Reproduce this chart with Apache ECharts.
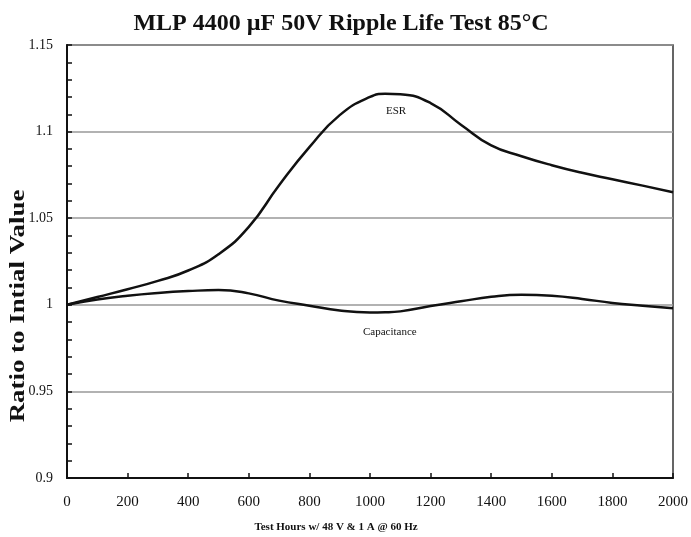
<!DOCTYPE html>
<html>
<head>
<meta charset="utf-8">
<script src="https://cdn.jsdelivr.net/npm/echarts@6/dist/echarts.min.js"></script>
<style>html,body{margin:0;padding:0;background:#fff;}#c{width:691px;height:537px;}</style>
</head>
<body>
<div id="c"></div>
<script>
const hours = [0,100,200,300,400,500,600,700,800,900,1000,1050,1100,1200,1300,1400,1500,1600,1700,1800,1900,2000];
const esr = [1.000,1.0045,1.0090,1.0138,1.0198,1.0292,1.0450,1.0690,1.0910,1.1095,1.1200,1.1218,1.1215,1.1165,1.1040,1.0920,1.0858,1.0806,1.0762,1.0725,1.0688,1.0650];
const capacitance = [1.000,1.003,1.0052,1.0068,1.0079,1.0085,1.0066,1.0024,0.9995,0.9967,0.9956,0.9957,0.9962,0.9993,1.002,1.0046,1.0058,1.0052,1.0034,1.0011,0.9995,0.998];
const xTicks = [0,200,400,600,800,1000,1200,1400,1600,1800,2000];
const yTicks = [0.9,0.95,1,1.05,1.1,1.15];

const chart = echarts.init(document.getElementById('c'), null, {renderer:'canvas'});
const serif = '"Liberation Serif", "DejaVu Serif", serif';
const pair = a => hours.map((h,i)=>[h,a[i]]);
chart.setOption({
  animation:false,
  backgroundColor:'#fff',
  title:{text:'MLP 4400 µF 50V Ripple Life Test 85°C', left:336, top:7, textAlign:'center',
    textStyle:{fontFamily:serif, fontWeight:'bold', fontSize:24, color:'#111'}},
  grid:{left:67, right:16, top:45, bottom:59, show:true, borderColor:'#333', borderWidth:1.5},
  xAxis:{type:'value', min:xTicks[0], max:xTicks[xTicks.length-1], interval:200,
    axisLine:{lineStyle:{color:'#111', width:2}},
    axisTick:{inside:true, length:5, lineStyle:{color:'#111', width:1.5}},
    axisLabel:{fontFamily:serif, fontSize:15, color:'#111', margin:17, formatter:v=>String(v)},
    splitLine:{show:false}},
  yAxis:{type:'value', min:yTicks[0], max:yTicks[yTicks.length-1], interval:0.05,
    axisLine:{show:true, lineStyle:{color:'#111', width:2}},
    axisTick:{show:true, inside:true, length:5, lineStyle:{color:'#111', width:1.5}},
    minorTick:{show:true, splitNumber:5, length:5, lineStyle:{color:'#111', width:1.5}},
    axisLabel:{fontFamily:serif, fontSize:14, color:'#111', margin:14,
      formatter:v=>String(Math.round(v*100)/100)},
    splitLine:{show:true, lineStyle:{color:'#999', width:1.5}}},
  series:[
    {name:'ESR', type:'line', data:pair(esr), smooth:0.5, showSymbol:false,
      lineStyle:{color:'#111', width:2.5}},
    {name:'Capacitance', type:'line', data:pair(capacitance), smooth:0.5, showSymbol:false,
      lineStyle:{color:'#111', width:2.5}}
  ],
  graphic:[
    {type:'text', left:386, top:106, style:{text:'ESR', font:'11px '+serif, fill:'#111'}},
    {type:'text', left:363, top:327, style:{text:'Capacitance', font:'11px '+serif, fill:'#111'}},
    {type:'text', x:19, y:306, rotation:Math.PI/2, scaleX:1.28, style:{text:'Ratio to Intial Value', font:'bold 21px '+serif, fill:'#111', textAlign:'center', textVerticalAlign:'middle'}},
    {type:'text', x:336, y:527, style:{text:'Test Hours w/ 48 V & 1 A @ 60 Hz', font:'bold 11px '+serif, fill:'#111', textAlign:'center', textVerticalAlign:'middle'}}
  ]
});
</script>
</body>
</html>
